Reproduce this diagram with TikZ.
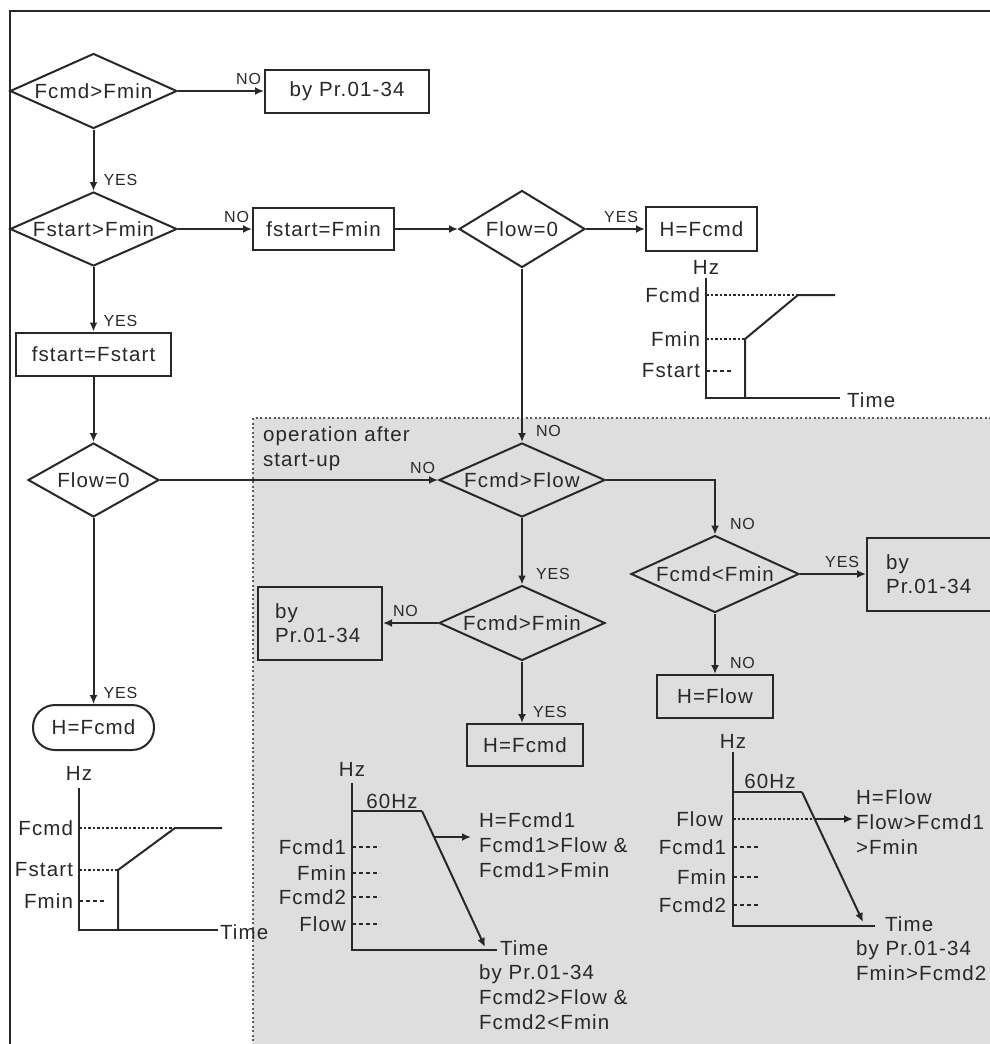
\documentclass[tikz,border=0pt]{standalone}
\usepackage{fontspec}
\setmainfont{Liberation Sans}[LetterSpace=5.5]
\usetikzlibrary{shapes.geometric, arrows.meta, positioning}
\definecolor{ink}{RGB}{40,40,40}
\definecolor{opgray}{RGB}{222,222,222}
\definecolor{dotgray}{RGB}{90,90,90}

\begin{document}
\begin{tikzpicture}[
  x=1pt, y=-1pt, line width=2pt, color=ink,
  font=\fontsize{20.5}{24.5}\selectfont,
  dec/.style={diamond, draw, inner sep=0pt, aspect=2.2},
  act/.style={rectangle, draw, inner sep=0pt},
  lbl/.style={font=\fontsize{16}{18}\selectfont, inner sep=1pt},
  hlbl/.style={lbl, pos=1, anchor=south east, xshift=-1pt, yshift=4pt},
  vlbl/.style={lbl, pos=1, anchor=south west, xshift=8pt, yshift=3pt},
  arr/.style={-{Latex[length=9pt,width=8pt]}},
  lvl/.style={line width=1.5pt, dash pattern=on 2.5pt off 2pt},
  tck/.style={line width=1.6pt, dash pattern=on 4pt off 3pt},
  ylab/.style={inner sep=0pt, anchor=east},
  txt/.style={inner sep=0pt, align=left, anchor=north west, font=\fontsize{20.5}{25}\selectfont}
]
  \useasboundingbox (0,0) rectangle (989,1044);
  \fill[white] (0,0) rectangle (989,1044);
  \fill[opgray] (253,418) rectangle (995,1050);
  \draw[dotgray, line width=2pt, dash pattern=on 2pt off 2.5pt] (253,1050) -- (253,418) -- (995,418);
  \draw (10,1050) -- (10,11) -- (995,11);

  \node[txt] (opnote) at (262,426) {operation after\\start-up};

  \node[dec, minimum width=167, minimum height=75] (d1) at (93.5,91) {Fcmd>Fmin};
  \node[act, minimum width=164, minimum height=43] (b1) at (347,91) {by Pr.01-34};
  \node[dec, minimum width=167, minimum height=74] (d2) at (93.5,229) {Fstart>Fmin};
  \node[act, minimum width=141, minimum height=42] (b2) at (323.5,229) {fstart=Fmin};
  \node[dec, minimum width=126, minimum height=77] (d3) at (522,229) {Flow=0};
  \node[act, minimum width=111, minimum height=44] (hf1) at (701.5,229) {H=Fcmd};
  \node[act, minimum width=155, minimum height=43] (b3) at (93.5,354) {fstart=Fstart};
  \node[dec, minimum width=131, minimum height=74] (d4) at (93.5,480) {Flow=0};
  \node[act, rounded corners=22pt, minimum width=121, minimum height=45] (t1) at (93.5,727.5) {H=Fcmd};
  \node[dec, minimum width=166, minimum height=74] (d5) at (522,480) {Fcmd>Flow};
  \node[dec, minimum width=166, minimum height=75] (d6) at (522,623) {Fcmd>Fmin};
  \node[act, minimum width=124, minimum height=73, text width=90pt, align=left] (b5) at (320,623) {by\\Pr.01-34};
  \node[act, minimum width=116, minimum height=42] (b6) at (525,745) {H=Fcmd};
  \node[dec, minimum width=168, minimum height=77] (d7) at (715,574) {Fcmd<Fmin};
  \node[act, minimum width=130, minimum height=73, text width=92pt, align=left, anchor=west] (b7) at (866,574) {by\\Pr.01-34};
  \node[act, minimum width=116, minimum height=43] (b8) at (715,696.5) {H=Flow};

  \draw[arr] (d1) -- node[hlbl] (n1) {NO} (b1);
  \draw[arr] (d1) -- node[vlbl] (y1) {YES} (d2);
  \draw[arr] (d2) -- node[hlbl] (n2) {NO} (b2);
  \draw[arr] (d2) -- node[vlbl] (y2) {YES} (b3);
  \draw[arr] (b2) -- (d3);
  \draw[arr] (d3) -- node[hlbl, xshift=-4pt] (y3) {YES} (hf1);
  \draw[arr] (d3) -- node[vlbl, xshift=4pt] (n3) {NO} (d5);
  \draw[arr] (b3) -- (d4);
  \draw[arr] (d4) -- node[hlbl] (n4) {NO} (d5);
  \draw[arr] (d4) -- node[vlbl] (y4) {YES} (t1);
  \draw[arr] (d5) -- node[vlbl, xshift=4pt] (y5) {YES} (d6);
  \draw[arr] (d6) -- node[lbl, pos=1, anchor=south west, xshift=8pt, yshift=4pt] (n5) {NO} (b5);
  \draw[arr] (d6.south) -- node[vlbl, xshift=1pt] (y6) {YES} (d6.south |- b6.north);
  \draw[arr] (d5.east) -| node[vlbl, xshift=5pt] (n6) {NO} (d7.north);
  \draw[arr] (d7) -- node[hlbl, xshift=-4pt] (y7) {YES} (b7);
  \draw[arr] (d7) -- node[vlbl, xshift=5pt] (n7) {NO} (b8);

  \node[inner sep=0pt, anchor=south] (g1hz) at (706,275) {Hz};
  \draw (706,278) -- (706,398) -- (840,398);
  \node[inner sep=0pt, anchor=west] (g1time) at (846,400) {Time};
  \draw[lvl] (706,295) -- (798,295);
  \draw (745,398) -- (745,339) -- (798,295) -- (835,295);
  \draw[lvl] (706,339) -- (745,339);
  \draw[tck] (706,371) -- (732,371);
  \node[ylab] (g1fcmd) at (701,295) {Fcmd};
  \node[ylab] (g1fmin) at (701,339) {Fmin};
  \node[ylab] (g1fstart) at (701,371) {Fstart};

  \node[inner sep=0pt, anchor=south] (g2hz) at (79,781) {Hz};
  \draw (79,788) -- (79,930) -- (218,930);
  \node[inner sep=0pt, anchor=west] (g2time) at (219,932) {Time};
  \draw[lvl] (79,828) -- (175,828);
  \draw[lvl] (79,870) -- (118,870);
  \draw (118,930) -- (118,870) -- (175,828) -- (222,828);
  \draw[tck] (79,901) -- (105,901);
  \node[ylab] (g2fcmd) at (74,828) {Fcmd};
  \node[ylab] (g2fstart) at (74,870) {Fstart};
  \node[ylab] (g2fmin) at (74,901) {Fmin};

  \node[inner sep=0pt, anchor=south] (g3hz) at (352,777) {Hz};
  \draw (352,783) -- (352,950) -- (497,950);
  \node[inner sep=0pt, anchor=south] (g3top) at (392,810) {60Hz};
  \draw (352,811) -- (422,811);
  \draw[arr] (422,811) -- (485,947);
  \draw[arr] (434,837) -- (471,837);
  \foreach \yy/\nm in {847/Fcmd1, 873/Fmin, 897/Fcmd2, 924/Flow} {
    \draw[tck] (352,\yy) -- (380,\yy);
    \node[ylab] at (347,\yy) {\nm};
  }
  \node[inner sep=0pt, anchor=west] (g3time) at (499,948) {Time};
  \node[txt] (g3up) at (478,812) {H=Fcmd1\\Fcmd1>Flow \&\\Fcmd1>Fmin};
  \node[txt] (g3dn) at (478,964) {by Pr.01-34\\Fcmd2>Flow \&\\Fcmd2<Fmin};

  \node[inner sep=0pt, anchor=south] (g4hz) at (733,749) {Hz};
  \draw (733,752) -- (733,926) -- (875,926);
  \node[inner sep=0pt, anchor=south] (g4top) at (770,790) {60Hz};
  \draw (733,792) -- (802,792);
  \draw[arr] (802,792) -- (863,922);
  \draw[lvl] (733,819) -- (815,819);
  \draw[arr] (815,819) -- (853,819);
  \node[ylab] (g4flow) at (724,819) {Flow};
  \foreach \yy/\nm in {847/Fcmd1, 877/Fmin, 905/Fcmd2} {
    \draw[tck] (733,\yy) -- (758,\yy);
    \node[ylab] at (727,\yy) {\nm};
  }
  \node[inner sep=0pt, anchor=west] (g4time) at (884,924) {Time};
  \node[txt] (g4up) at (855,789) {H=Flow\\Flow>Fcmd1\\>Fmin};
  \node[txt] (g4dn) at (855,940) {by Pr.01-34\\Fmin>Fcmd2};
\end{tikzpicture}
\end{document}
